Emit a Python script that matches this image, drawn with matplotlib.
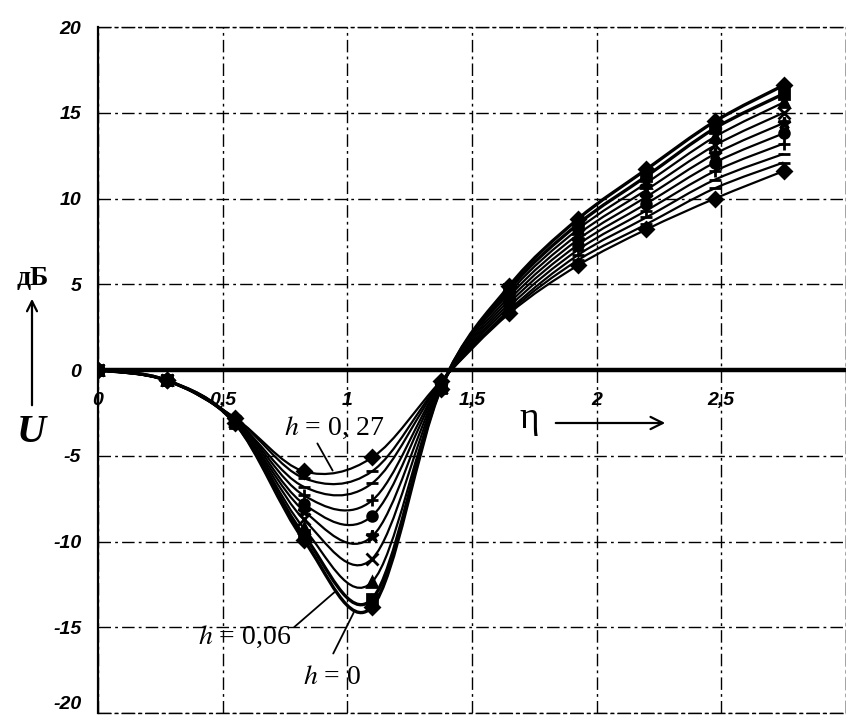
#Family of U(eta) curves for different h, redrawn from a scanned Excel chart
import numpy as np
import matplotlib.pyplot as plt
from matplotlib.path import Path
from matplotlib.patches import PathPatch

plt.rcParams['mathtext.fontset'] = 'stix'

# points where the series were computed
eta = [0, 0.275, 0.55, 0.825, 1.1, 1.375, 1.65, 1.925, 2.2, 2.475, 2.75]

# U in dB, from h=0 (deepest dip) up to h=0.27
u_h000 = [0, -0.6, -3.1, -9.9, -13.8, -1.10, 4.9, 8.8, 11.7, 14.5, 16.6]
u_h003 = [0, -0.6, -3.1, -9.6, -13.35, -1.05, 4.7, 8.5, 11.3, 14.1, 16.1]
u_h006 = [0, -0.6, -3.0, -9.2, -12.35, -1.00, 4.5, 8.2, 10.9, 13.6, 15.6]
u_h009 = [0, -0.6, -3.0, -8.7, -11.0, -0.95, 4.3, 7.9, 10.5, 13.1, 15.0]
u_h012 = [0, -0.6, -3.0, -8.2, -9.7, -0.90, 4.1, 7.6, 10.1, 12.6, 14.4]
u_h015 = [0, -0.6, -2.9, -7.8, -8.5, -0.85, 3.9, 7.3, 9.7, 12.1, 13.8]
u_h018 = [0, -0.6, -2.9, -7.3, -7.6, -0.80, 3.7, 7.0, 9.3, 11.6, 13.2]
u_h021 = [0, -0.6, -2.9, -6.8, -6.6, -0.75, 3.5, 6.7, 8.9, 11.1, 12.6]
u_h024 = [0, -0.6, -2.8, -6.3, -5.9, -0.70, 3.4, 6.4, 8.5, 10.6, 12.1]
u_h027 = [0, -0.6, -2.8, -5.9, -5.1, -0.65, 3.3, 6.1, 8.2, 10.0, 11.6]

series = [u_h000, u_h003, u_h006, u_h009, u_h012, u_h015, u_h018, u_h021, u_h024, u_h027]
markers = ['D', 's', '^', 'x', '*', 'o', '+', '_', '_', 'D']

y_ticks = [20, 15, 10, 5, 0, -5, -10, -15, -20]
x_ticks = [0, 0.5, 1, 1.5, 2, 2.5]
x_tick_labels = ['0', '0,5', '1', '1,5', '2', '2,5']


def smooth_path(xs, ys):
    # Excel-like smoothed line: cubic bezier pieces through the points
    pts = np.column_stack([xs, ys])
    n = len(pts)
    verts = [pts[0]]
    codes = [Path.MOVETO]
    for i in range(n - 1):
        p0 = pts[max(i - 1, 0)]
        p1 = pts[i]
        p2 = pts[i + 1]
        p3 = pts[min(i + 2, n - 1)]
        verts += [p1 + (p2 - p0) / 6, p2 - (p3 - p1) / 6, p2]
        codes += [Path.CURVE4] * 3
    return Path(verts, codes)


fig = plt.figure(figsize=(8.46, 7.19), dpi=100)
ax = fig.add_axes([0.1158, 0.0083, 0.884, 0.9541])
ax.set_xlim(0, 3)
ax.set_ylim(-20, 20)

dashdot = (0, (9, 3, 2, 3))
ax.set_xticks([0, 0.5, 1, 1.5, 2, 2.5, 3])
ax.set_yticks(y_ticks)
ax.grid(True, color='black', linestyle=dashdot, linewidth=1.0)
ax.set_axisbelow(True)
ax.tick_params(length=0, pad=12)
ax.set_xticklabels([])
ax.set_yticklabels([str(v) for v in y_ticks], fontfamily='Liberation Sans',
                   fontweight='bold', fontstyle='italic', fontsize=14)
ax.get_yticklabels()[-1].set_va('bottom')
for side in ['top', 'right', 'bottom']:
    ax.spines[side].set_linestyle(dashdot)
    ax.spines[side].set_linewidth(1.0)
ax.spines['left'].set_linewidth(1.6)

ax.axhline(0, color='black', linewidth=3.2, zorder=2)

for i, (vals, m) in enumerate(zip(series, markers)):
    lw = 2.4 if i < 2 else 1.6
    ax.add_patch(PathPatch(smooth_path(eta, vals), fill=False, edgecolor='black',
                           linewidth=lw, zorder=3))
    ms = 9 if m in ['*', '+', '_', 'x'] else 7
    ax.plot(eta, vals, linestyle='none', marker=m, markersize=ms, color='black',
            markeredgewidth=2, zorder=4)

for xv, lab in zip(x_ticks, x_tick_labels):
    ax.text(xv, -1.75, lab, ha='center', va='center', fontfamily='Liberation Sans',
            fontweight='bold', fontstyle='italic', fontsize=14)

W, H = 846, 719


def ff(px, py):
    return (px / W, 1 - py / H)


# axis captions
fig.text(*ff(33, 279), 'дБ', ha='center', va='center', fontfamily='Liberation Serif',
         fontweight='bold', fontsize=20)
ax.annotate('', xy=ff(32, 296), xytext=ff(32, 408), xycoords='figure fraction',
            textcoords='figure fraction',
            arrowprops=dict(arrowstyle='->', lw=1.6, color='black', mutation_scale=18))
fig.text(*ff(31, 433), 'U', ha='center', va='center', fontfamily='Liberation Serif',
         fontweight='bold', fontstyle='italic', fontsize=29)
fig.text(*ff(529, 419), 'η', ha='center', va='center', fontfamily='Liberation Serif',
         fontsize=27)
ax.annotate('', xy=ff(668, 423), xytext=ff(553, 423), xycoords='figure fraction',
            textcoords='figure fraction',
            arrowprops=dict(arrowstyle='->', lw=1.6, color='black', mutation_scale=22))

# curve labels
fig.text(*ff(334, 428), '$h$ = 0, 27', ha='center', va='center',
         fontfamily='Liberation Serif', fontsize=20)
ax.annotate('', xy=ff(334, 473), xytext=ff(316, 441), xycoords='figure fraction',
            textcoords='figure fraction', arrowprops=dict(arrowstyle='-', lw=1.3))
fig.text(*ff(245, 637), '$h$ = 0,06', ha='center', va='center',
         fontfamily='Liberation Serif', fontsize=20)
ax.annotate('', xy=ff(337, 590), xytext=ff(292, 629), xycoords='figure fraction',
            textcoords='figure fraction', arrowprops=dict(arrowstyle='-', lw=1.3))
fig.text(*ff(332, 677), '$h$ = 0', ha='center', va='center',
         fontfamily='Liberation Serif', fontsize=20)
ax.annotate('', xy=ff(355, 610), xytext=ff(332, 656), xycoords='figure fraction',
            textcoords='figure fraction', arrowprops=dict(arrowstyle='-', lw=1.3))

fig.savefig('out.png', dpi=100)
